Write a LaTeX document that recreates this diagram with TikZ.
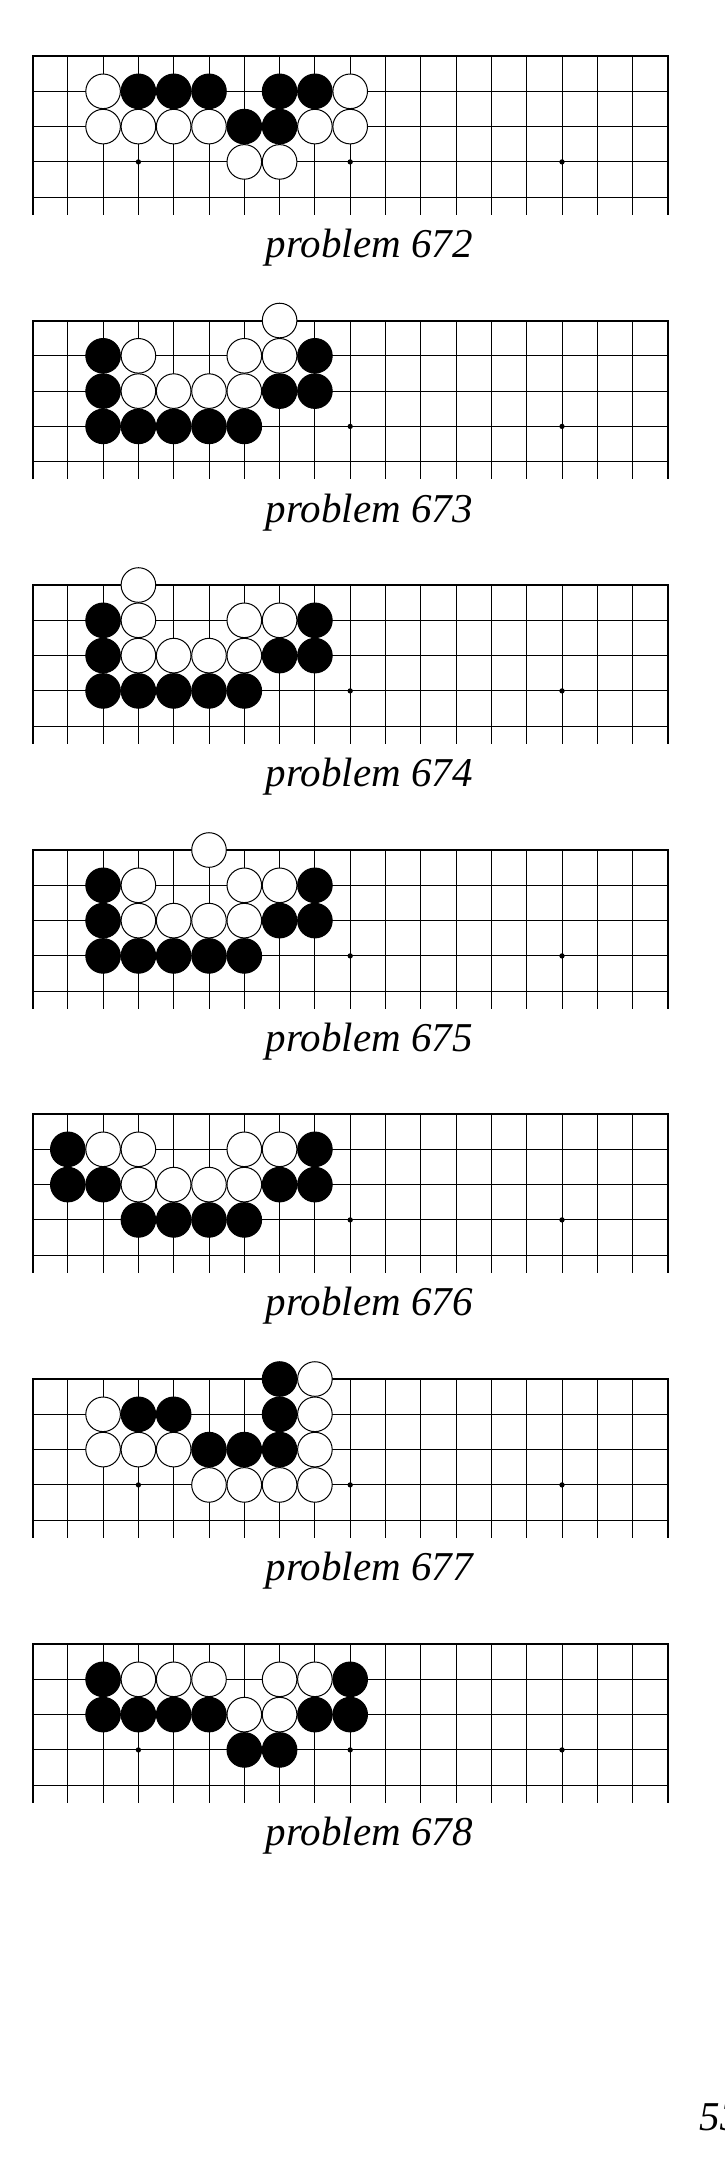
\documentclass[tikz,border=0pt]{standalone}
\usepackage{fontspec}
\setmainfont{Liberation Serif}

\tikzset{
    gridline/.style={line width=0.5pt},
    edgeline/.style={line width=1pt},
    bstone/.style={draw, fill=black, line width=0.5pt},
    wstone/.style={draw, fill=white, line width=0.5pt},
    caption/.style={font=\fontsize{20.5}{24}\selectfont\itshape, anchor=base, inner sep=0pt},
}

% #1 top of board (px), #2 black stones, #3 white stones, #4 problem number
\newcommand{\goboard}[4]{%
    \begin{scope}[shift={(32.5,#1)}, x=17.65pt, y=-17.65pt]
        \foreach \c in {0,...,18} \draw[gridline] (\c, 0) -- (\c, 4.5);
        \foreach \r in {1,...,4} \draw[gridline] (0, \r) -- (18, \r);
        \draw[edgeline] (0, 4.5) -- (0, 0) -- (18, 0) -- (18, 4.5);
        \foreach \c in {3, 9, 15} \fill (\c, 3) circle (0.075);
        \foreach \c/\r in {#2} \draw[bstone] (\c, \r) circle (0.49);
        \foreach \c/\r in {#3} \draw[wstone] (\c, \r) circle (0.49);
        \node[caption] (cap#4) at (9.544, 5.708) {problem #4};
    \end{scope}%
}

\begin{document}
\begin{tikzpicture}[x=0.5pt, y=-0.5pt]
    \useasboundingbox (0, 0) rectangle (724, 2181);

    \goboard{56}{3/1, 4/1, 5/1, 7/1, 8/1, 6/2, 7/2}
        {2/1, 9/1, 2/2, 3/2, 4/2, 5/2, 8/2, 9/2, 6/3, 7/3}{672}

    \goboard{320.5}{2/1, 8/1, 2/2, 7/2, 8/2, 2/3, 3/3, 4/3, 5/3, 6/3}
        {7/0, 3/1, 6/1, 7/1, 3/2, 4/2, 5/2, 6/2}{673}

    \goboard{585}{2/1, 8/1, 2/2, 7/2, 8/2, 2/3, 3/3, 4/3, 5/3, 6/3}
        {3/0, 3/1, 6/1, 7/1, 3/2, 4/2, 5/2, 6/2}{674}

    \goboard{850}{2/1, 8/1, 2/2, 7/2, 8/2, 2/3, 3/3, 4/3, 5/3, 6/3}
        {5/0, 3/1, 6/1, 7/1, 3/2, 4/2, 5/2, 6/2}{675}

    \goboard{1114}{1/1, 8/1, 1/2, 2/2, 7/2, 8/2, 3/3, 4/3, 5/3, 6/3}
        {2/1, 3/1, 6/1, 7/1, 3/2, 4/2, 5/2, 6/2}{676}

    \goboard{1379}{7/0, 3/1, 4/1, 7/1, 5/2, 6/2, 7/2}
        {8/0, 2/1, 8/1, 2/2, 3/2, 4/2, 8/2, 5/3, 6/3, 7/3, 8/3}{677}

    \goboard{1644}{2/1, 9/1, 2/2, 3/2, 4/2, 5/2, 8/2, 9/2, 6/3, 7/3}
        {3/1, 4/1, 5/1, 7/1, 8/1, 6/2, 7/2}{678}

    \node[caption, anchor=base west] (pagenum) at (699.5, 2130) {53};
\end{tikzpicture}
\end{document}
